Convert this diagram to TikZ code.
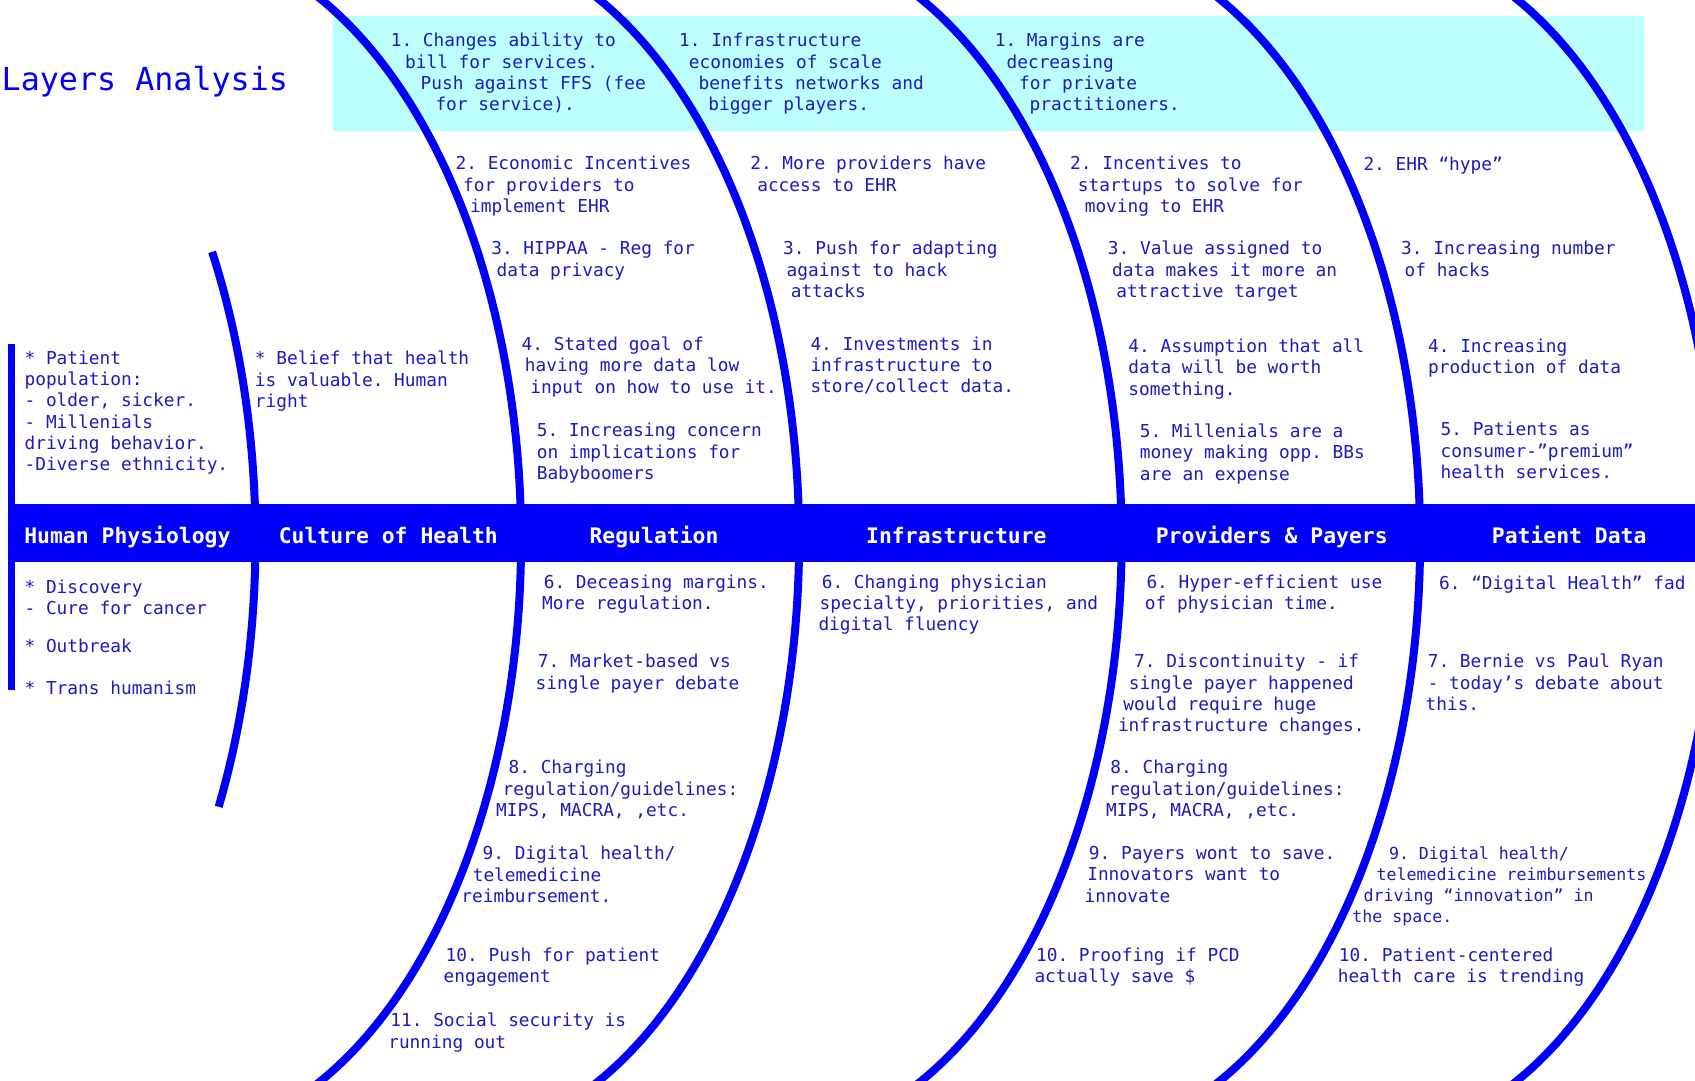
\documentclass[tikz,border=0pt]{standalone}
\usepackage{fontspec}
\setmonofont{DejaVu Sans Mono}
\definecolor{layerblue}{RGB}{0,0,250}
\definecolor{notecol}{RGB}{28,28,190}
\definecolor{bandcyan}{RGB}{187,255,255}
\newcommand\notefont{\ttfamily\fontsize{17.8}{21.3}\selectfont}
\newcommand\smallnotefont{\ttfamily\fontsize{16.6}{21.3}\selectfont}
\tikzset{
  note/.style={anchor=north west, align=left, inner sep=0pt, text=notecol,
    font=\notefont, execute at begin node=\strut},
  layer/.style={anchor=base, inner sep=0pt, text=white,
    font=\ttfamily\bfseries\fontsize{21.4}{25}\selectfont},
  arcline/.style={draw=layerblue, line width=8pt}
}
\begin{document}
\begin{tikzpicture}[x=1pt,y=-1pt]
\useasboundingbox (0,0) rectangle (1695,1080);
\fill[white] (0,0) rectangle (1695,1080);

% Band
\fill[bandcyan] (333,16) rectangle (1644,131);

% Layers
\begin{scope}
\clip (0,0) rectangle (1695,1080);
\draw[arcline] (-97.5,540) ++(-26.4:353pt and 600pt) arc[start angle=-26.4, end angle=28.7, x radius=353pt, y radius=600pt];
\draw[arcline] (168,540) ++(-70:353pt and 600pt) arc[start angle=-70, end angle=70, x radius=353pt, y radius=600pt];
\draw[arcline] (446,540) ++(-70:353pt and 600pt) arc[start angle=-70, end angle=70, x radius=353pt, y radius=600pt];
\draw[arcline] (768.5,540) ++(-70:353pt and 600pt) arc[start angle=-70, end angle=70, x radius=353pt, y radius=600pt];
\draw[arcline] (1067,540) ++(-70:353pt and 600pt) arc[start angle=-70, end angle=70, x radius=353pt, y radius=600pt];
\draw[arcline] (1364,540) ++(-70:353pt and 600pt) arc[start angle=-70, end angle=70, x radius=353pt, y radius=600pt];
\end{scope}

\draw[layerblue, line width=7pt] (11.5,344) -- (11.5,690);
\fill[layerblue] (8,504) rectangle (1695,562);

% Titles
\node[anchor=base west, inner sep=0pt, text=layerblue, font=\ttfamily\fontsize{31.7}{38}\selectfont] (title) at (1.5,90) {Layers Analysis};

\node[layer] (physio) at (127.4,543.5) {Human Physiology};
\node[layer] (culture) at (388.3,543.5) {Culture of Health};
\node[layer] (reg) at (654,543.5) {Regulation};
\node[layer] (infra) at (956.4,543.5) {Infrastructure};
\node[layer] (prov) at (1271.8,543.5) {Providers \& Payers};
\node[layer] (pdata) at (1569.2,543.5) {Patient Data};

% Human Physiology, Culture of Health
\node[note] (physio1) at (24.4,350.4) {* Patient\\population:\\- older, sicker.\\- Millenials\\driving behavior.\\-Diverse ethnicity.};
\node[note] (physio2) at (24.4,579.6) {* Discovery\\- Cure for cancer\\[16.7pt]* Outbreak\\[20.7pt]* Trans humanism};
\node[note] (culture1) at (254.7,351.1) {* Belief that health\\is valuable. Human\\right};

% Regulation
\node[note] (reg1) at (390.6,33.1) {1. Changes ability to\\\hspace*{14.3pt}bill for services.\\\hspace*{29.9pt}Push against FFS (fee\\\hspace*{44.7pt}for service).};
\node[note] (reg2) at (455.4,156.1) {2. Economic Incentives\\\hspace*{7.6pt}for providers to\\\hspace*{14.6pt}implement EHR};
\node[note] (reg3) at (491.1,241.1) {3. HIPPAA - Reg for\\\hspace*{5.3pt}data privacy};
\node[note] (reg4) at (521.4,336.6) {4. Stated goal of\\\hspace*{3.3pt}having more data low\\\hspace*{8.7pt}input on how to use it.};
\node[note] (reg5) at (536.6,423.1) {5. Increasing concern\\on implications for\\Babyboomers};
\node[note] (reg6) at (542,574.6) {\hspace*{1.6pt}6. Deceasing margins.\\More regulation.};
\node[note] (reg7) at (535.5,654.1) {\hspace*{2.2pt}7. Market-based vs\\single payer debate};
\node[note] (reg8) at (495.9,760.1) {\hspace*{12.5pt}8. Charging\\\hspace*{6.5pt}regulation/guidelines:\\MIPS, MACRA, ,etc.};
\node[note] (reg9) at (461.2,846.1) {\hspace*{21.2pt}9. Digital health/\\\hspace*{11.4pt}telemedicine\\reimbursement.};
\node[note] (reg10) at (443.4,947.6) {\hspace*{2.1pt}10. Push for patient\\engagement};
\node[note] (reg11) at (388.1,1013.1) {\hspace*{2.1pt}11. Social security is\\running out};

% Infrastructure
\node[note] (infra1) at (678.9,33.1) {1. Infrastructure\\\hspace*{9.8pt}economies of scale\\\hspace*{19.6pt}benefits networks and\\\hspace*{29.3pt}bigger players.};
\node[note] (infra2) at (750.1,156.1) {2. More providers have\\\hspace*{7pt}access to EHR};
\node[note] (infra3) at (783,241.1) {3. Push for adapting\\\hspace*{3.5pt}against to hack\\\hspace*{7.6pt}attacks};
\node[note] (infra4) at (810.3,336.6) {4. Investments in\\infrastructure to\\store/collect data.};
\node[note] (infra6) at (818.3,574.6) {\hspace*{3.3pt}6. Changing physician\\\hspace*{1.1pt}specialty, priorities, and\\digital fluency};

% Providers & Payers
\node[note] (prov1) at (994.6,33.1) {1. Margins are\\\hspace*{11.8pt}decreasing\\\hspace*{24.4pt}for private\\\hspace*{34.9pt}practitioners.};
\node[note] (prov2) at (1070,156.1) {2. Incentives to\\\hspace*{7.7pt}startups to solve for\\\hspace*{14.6pt}moving to EHR};
\node[note] (prov3) at (1107.7,241.1) {3. Value assigned to\\\hspace*{4.2pt}data makes it more an\\\hspace*{8.4pt}attractive target};
\node[note] (prov4) at (1128.2,338.6) {4. Assumption that all\\data will be worth\\something.};
\node[note] (prov5) at (1139.6,423.6) {5. Millenials are a\\money making opp. BBs\\are an expense};
\node[note] (prov6) at (1144.7,574.6) {\hspace*{1.6pt}6. Hyper-efficient use\\of physician time.};
\node[note] (prov7) at (1117.8,654.1) {\hspace*{16.1pt}7. Discontinuity - if\\\hspace*{10.8pt}single payer happened\\\hspace*{5.4pt}would require huge\\infrastructure changes.};
\node[note] (prov8) at (1105.9,760.1) {\hspace*{4.3pt}8. Charging\\\hspace*{2.7pt}regulation/guidelines:\\MIPS, MACRA, ,etc.};
\node[note] (prov9) at (1084.4,846.1) {\hspace*{4.3pt}9. Payers wont to save.\\\hspace*{2.7pt}Innovators want to\\innovate};
\node[note] (prov10) at (1034.3,947.6) {\hspace*{1.6pt}10. Proofing if PCD\\actually save \$};

% Patient Data
\node[note] (pdata2) at (1363.3,155.1) {2. EHR “hype”};
\node[note] (pdata3) at (1401,241.1) {3. Increasing number\\\hspace*{3.5pt}of hacks};
\node[note] (pdata4) at (1427.9,338.6) {4. Increasing\\production of data};
\node[note] (pdata5) at (1440.4,422.1) {5. Patients as\\consumer-”premium”\\health services.};
\node[note] (pdata6) at (1438.9,574.6) {6. “Digital Health” fad};
\node[note] (pdata7) at (1425.4,654.1) {\hspace*{2.2pt}7. Bernie vs Paul Ryan\\\hspace*{2.2pt}- today’s debate about\\this.};
\node[note, font=\smallnotefont] (pdata9) at (1352.2,846.1) {\hspace*{36.6pt}9. Digital health/\\\hspace*{24.2pt}telemedicine reimbursements\\\hspace*{11.3pt}driving “innovation” in\\the space.};
\node[note] (pdata10) at (1337.6,947.6) {\hspace*{1.1pt}10. Patient-centered\\health care is trending};

\end{tikzpicture}
\end{document}
